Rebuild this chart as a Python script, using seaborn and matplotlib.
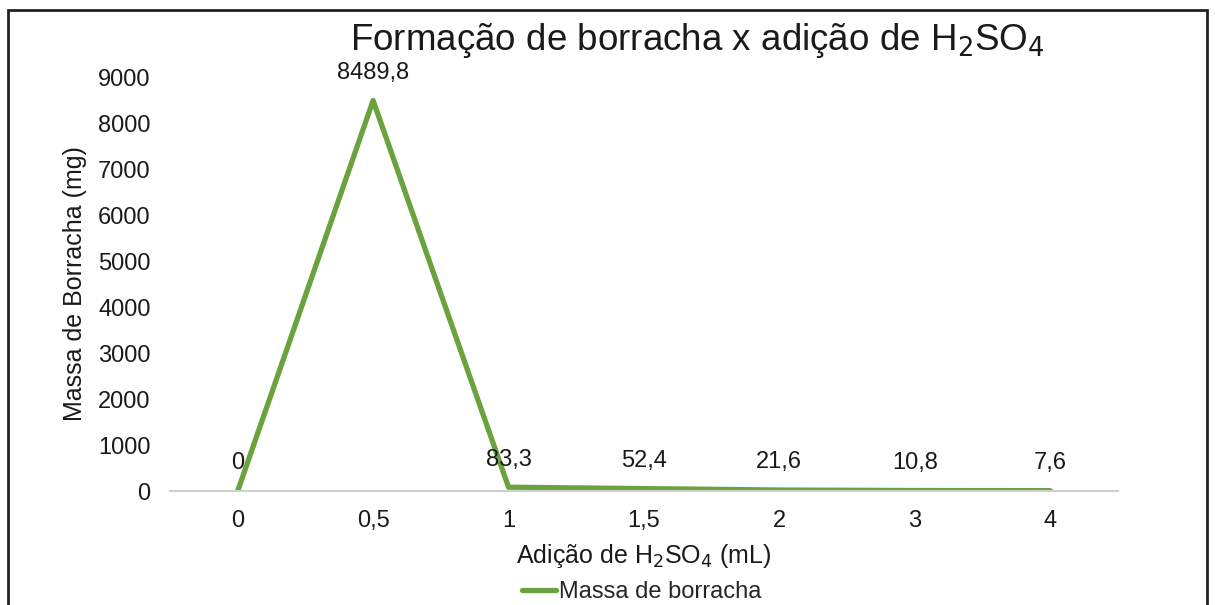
import pandas as pd
import seaborn as sns
import matplotlib.pyplot as plt
from matplotlib.patches import Rectangle

# Values
acid_ml = ["0", "0,5", "1", "1,5", "2", "3", "4"]
rubber_mg = [0, 8489.8, 83.3, 52.4, 21.6, 10.8, 7.6]
point_labels = ["0", "8489,8", "83,3", "52,4", "21,6", "10,8", "7,6"]
y_ticks = [0, 1000, 2000, 3000, 4000, 5000, 6000, 7000, 8000, 9000]

df = pd.DataFrame({"acid": acid_ml, "mass": rubber_mg})

sns.set_style("white")
plt.rcParams["font.family"] = ["Liberation Sans", "DejaVu Sans"]

green = "#6AA23E"
txt = "#1a1a1a"

fig = plt.figure(figsize=(12.15, 6.05), dpi=100)
ax = fig.add_axes([0.1399, 0.1884, 0.7802, 0.6843])

sns.lineplot(data=df, x="acid", y="mass", sort=False, color=green,
             linewidth=3.8, ax=ax, label="Massa de borracha", legend=False)

# data labels above each point
for i, (v, lab) in enumerate(zip(rubber_mg, point_labels)):
    ax.annotate(lab, (i, v), xytext=(0, 12), textcoords="offset points",
                ha="center", va="bottom", fontsize=17, color=txt)

ax.set_xlim(-0.5, len(acid_ml) - 0.5)
ax.set_ylim(0, 9000)
ax.set_yticks(y_ticks)
ax.set_yticklabels([str(t) for t in y_ticks])
ax.set_xticks(range(len(acid_ml)))
ax.set_xticklabels(acid_ml)
ax.set_xticks([i - 0.5 for i in range(len(acid_ml) + 1)], minor=True)
ax.tick_params(axis="x", which="major", length=0, pad=14, labelsize=17, colors=txt)
ax.tick_params(axis="x", which="minor", length=7, width=1.2, color="#D0D0D0", direction="out")
ax.tick_params(axis="y", length=0, pad=14, labelsize=17, colors=txt)

for side in ["top", "right", "left"]:
    ax.spines[side].set_visible(False)
ax.spines["bottom"].set_color("#D0D0D0")
ax.spines["bottom"].set_linewidth(1.5)

ax.set_xlabel("Adição de H$_2$SO$_4$ (mL)", fontsize=18, color=txt, labelpad=7)
ax.set_ylabel("Massa de Borracha (mg)", fontsize=18, color=txt, labelpad=8)

fig.text(697 / 1215, 1 - 40 / 605, "Formação de borracha x adição de H$_2$SO$_4$",
         fontsize=26.5, color=txt, ha="center", va="center")

handles, labels = ax.get_legend_handles_labels()
fig.legend(handles, labels, loc="center", bbox_to_anchor=(0.528, 0.021),
           frameon=False, fontsize=17, handlelength=1.45, handletextpad=0.1,
           borderpad=0)

# chart border
fig.add_artist(Rectangle((8 / 1215, -0.05), 1199 / 1215, 1.05 - 10 / 605,
                         transform=fig.transFigure, fill=False,
                         edgecolor="#222222", linewidth=2, clip_on=False))

plt.savefig("out.png", dpi=100)
